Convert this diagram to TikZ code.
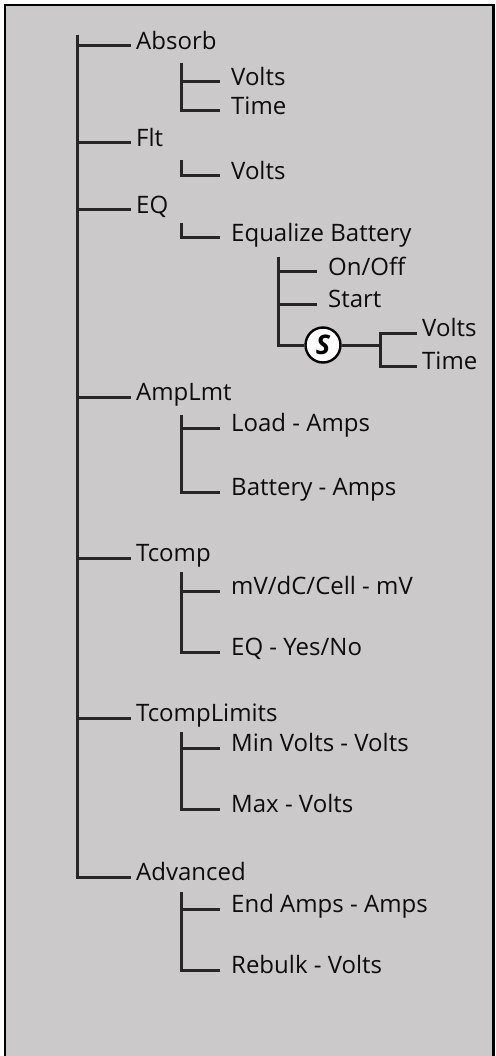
\documentclass[tikz,border=0pt]{standalone}
\usepackage{fontspec}
\setmainfont{Open Sans}
\begin{document}
\begin{tikzpicture}[x=1pt,y=-1pt,
  line/.style={draw=black!85,line width=3pt},
  lbl/.style={anchor=west,inner ysep=0pt,text height=0.62em,text depth=0pt,font=\fontsize{24}{28}\selectfont,text=black!95},
  mainlbl/.style={lbl,inner xsep=5pt},
  sublbl/.style={lbl,inner xsep=11pt},
  ssign/.style={circle,draw=black,line width=2.4pt,fill=white,minimum size=35pt,inner sep=0pt,font=\fontsize{27}{28}\selectfont\bfseries\itshape}]
\useasboundingbox (0,0) rectangle (495,1056);
\fill[white] (0,0) rectangle (495,1056);
\path[fill={rgb,255:red,203;green,201;blue,202},draw=black,line width=2.8pt] (5,5) -- (5,1070) -- (493.5,1070) -- (493.5,5) -- cycle;
% main trunk
\coordinate (t0) at (77,35);
\node[mainlbl] (absorb) at (131,46) {Absorb};
\node[mainlbl] (flt) at (131,143) {Flt};
\node[mainlbl] (eq) at (131,210) {EQ};
\node[mainlbl] (amp) at (131,397) {AmpLmt};
\node[mainlbl] (tcomp) at (131,558) {Tcomp};
\node[mainlbl] (tlim) at (131,718) {TcompLimits};
\node[mainlbl] (adv) at (131,877) {Advanced};
\foreach \n in {absorb,flt,eq,amp,tcomp,tlim,adv} \draw[line] (t0) |- (\n.west);
% Absorb
\coordinate (a0) at (181,63);
\node[sublbl] (av) at (220,82) {Volts};
\node[sublbl] (at) at (220,111) {Time};
\draw[line] (a0) |- (av.west); \draw[line] (a0) |- (at.west);
% Flt
\coordinate (f0) at (181,160);
\node[sublbl] (fv) at (220,176) {Volts};
\draw[line] (f0) |- (fv.west);
% EQ
\coordinate (e0) at (181,223);
\node[sublbl] (eb) at (220,238) {Equalize Battery};
\draw[line] (e0) |- (eb.west);
\coordinate (q0) at (278,257);
\node[sublbl] (on) at (317,272) {On/Off};
\node[sublbl] (st) at (317,304) {Start};
\node[ssign] (s) at (323,345) {S};
\draw[line] (q0) |- (on.west); \draw[line] (q0) |- (st.west); \draw[line] (q0) |- (s.west);
\coordinate (sj) at (380,345);
\node[mainlbl] (sv) at (417,333) {Volts};
\node[mainlbl] (stt) at (417,366) {Time};
\draw[line] (s.east) -- (sj); \draw[line] (sj) |- (sv.west); \draw[line] (sj) |- (stt.west);
% AmpLmt
\coordinate (m0) at (181,415);
\node[sublbl] (ld) at (220,428) {Load - Amps};
\node[sublbl] (bt) at (220,492) {Battery - Amps};
\draw[line] (m0) |- (ld.west); \draw[line] (m0) |- (bt.west);
% Tcomp
\coordinate (c0) at (181,572);
\node[sublbl] (mv) at (220,591) {mV/dC/Cell - mV};
\node[sublbl] (yn) at (220,652) {EQ - Yes/No};
\draw[line] (c0) |- (mv.west); \draw[line] (c0) |- (yn.west);
% TcompLimits
\coordinate (l0) at (181,732);
\node[sublbl] (mn) at (220,748) {Min Volts - Volts};
\node[sublbl] (mx) at (220,809) {Max - Volts};
\draw[line] (l0) |- (mn.west); \draw[line] (l0) |- (mx.west);
% Advanced
\coordinate (d0) at (181,892);
\node[sublbl] (ea) at (220,909) {End Amps - Amps};
\node[sublbl] (rb) at (220,970) {Rebulk - Volts};
\draw[line] (d0) |- (ea.west); \draw[line] (d0) |- (rb.west);
\end{tikzpicture}
\end{document}
